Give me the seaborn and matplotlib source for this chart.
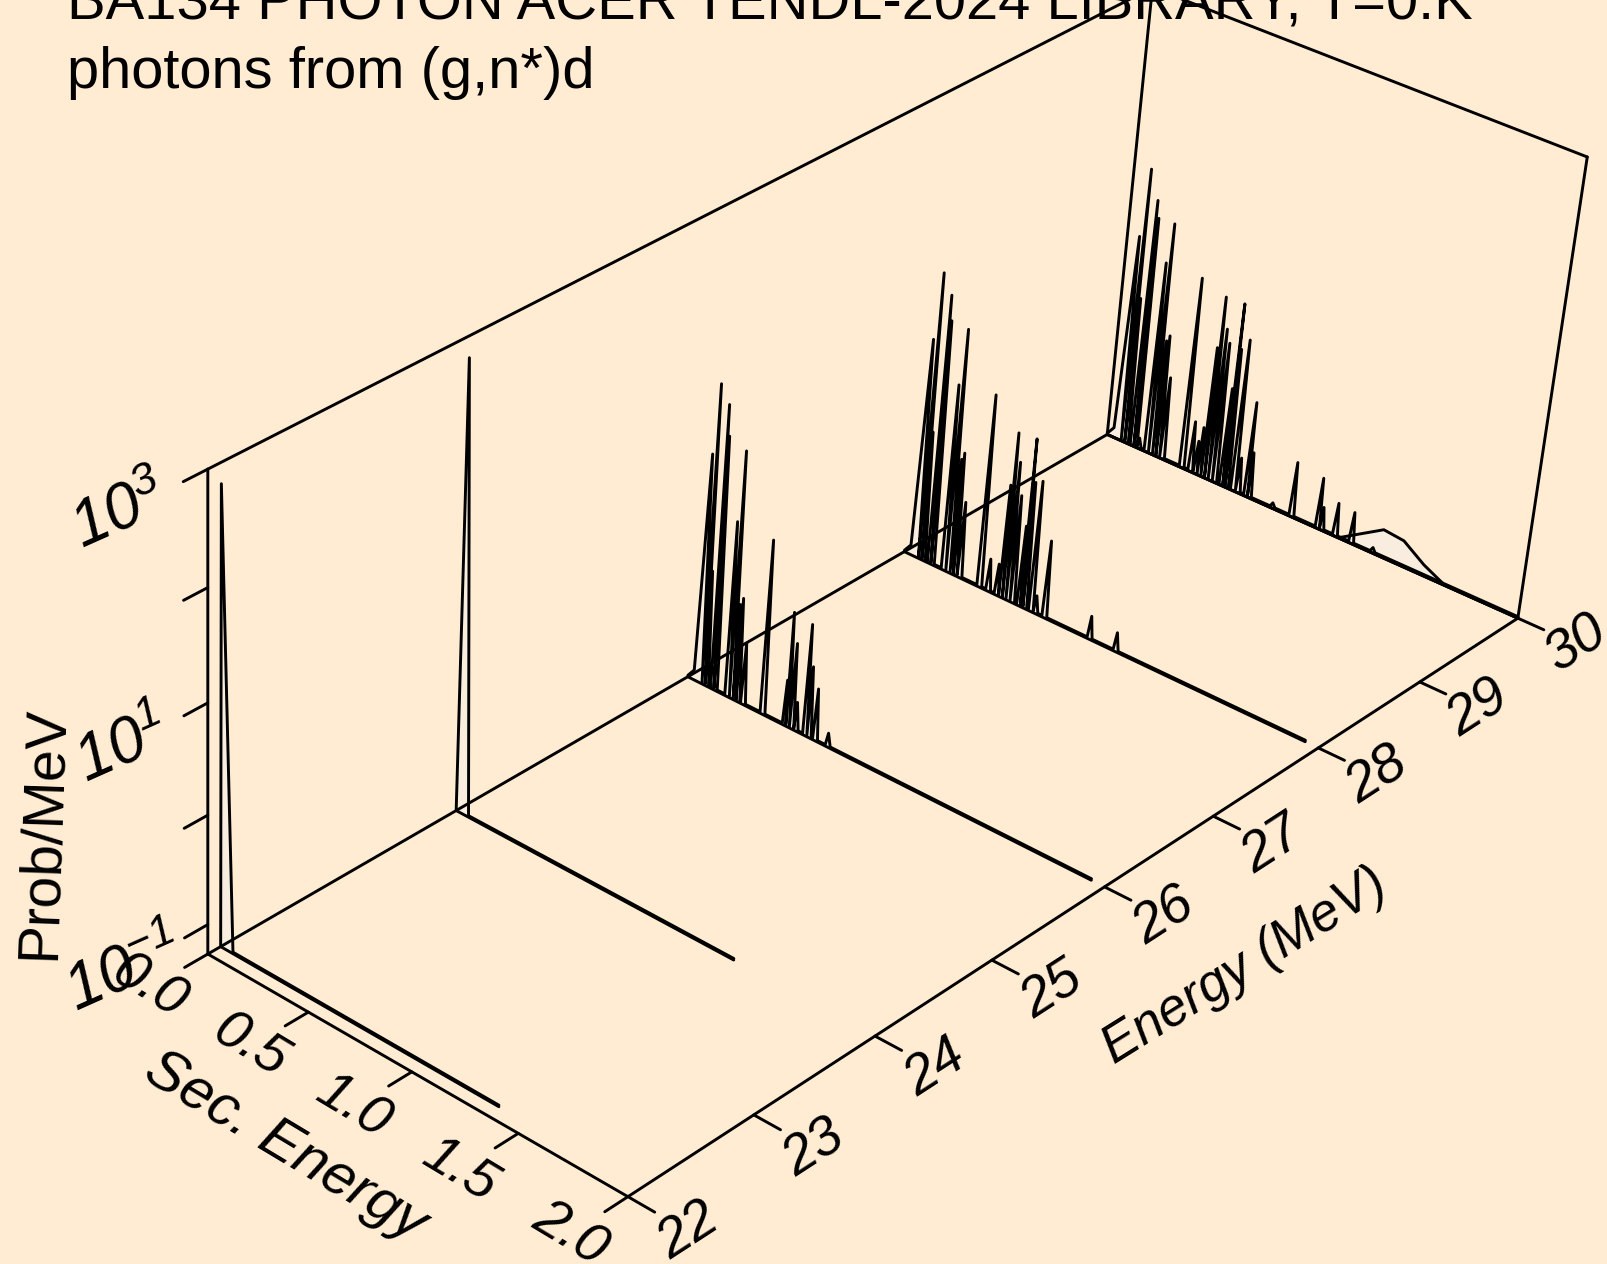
import numpy as np
import pandas as pd
import matplotlib
matplotlib.use("Agg")
import matplotlib.pyplot as plt
import matplotlib.transforms as mtransforms
import seaborn as sns

FIG_W, FIG_H = 1607, 1264
BG = "#FFECD3"
FILL = "#F8EDDE"
LW = 2.1

# camera fitted to the box corners and ticks of the picture (pixels, y down)
CAMERA = np.array([[225.785974, 328.2145137, -4.5418588, -4618.7329944],
                   [-97.3695799, 149.7646981, -203.7068128, 3509.3495833],
                   [0.0307857, -0.0477252, -0.0218532, 1.0]])

E_MIN, E_MAX = 22, 30
SEC_MIN, SEC_MAX = 0, 2
LOG_MIN, LOG_MAX = -1.274, 3

E_TICKS = [22, 23, 24, 25, 26, 27, 28, 29, 30]
SEC_TICKS = [0.0, 0.5, 1.0, 1.5, 2.0]
LOG_TICKS = [3, 2, 1, 0, -1]
LOG_LABELLED = [3, 1, -1]

# incident energies and where each spectrum stops
energies = [30.0, 28.0, 26.0, 24.0, 22.1]
sec_end = [2.0, 1.94, 1.94, 1.35, 1.35]

# discrete lines, sec. energy (MeV) and log10 of prob/MeV at the tip
sec_30 = [0.059, 0.083, 0.095, 0.129, 0.142, 0.160, 0.199, 0.220, 0.240, 0.254, 0.278, 0.377, 0.420, 0.446, 0.463,
          0.484, 0.499, 0.521, 0.540, 0.576, 0.589, 0.598, 0.633, 0.657, 0.698, 0.712, 0.828, 0.921, 1.049, 1.067, 1.133, 1.211, 1.314]
log_30 = [0.72, 1.38, 0.15, 1.12, 0.96, -1.17, 0.58, 0.97, -0.14, -0.08, -0.47, 0.58, -0.78, -0.95, -0.80,
          0.00, 0.50, 0.21, 0.09, -0.32, 0.51, 0.08, 0.20, -0.93, -0.35, -0.83, -1.22, -0.74, -0.78, -1.05, -0.95, -0.97, -1.22]

sec_28 = [0.059, 0.084, 0.093, 0.129, 0.139, 0.198, 0.221, 0.241, 0.253, 0.278, 0.377, 0.421, 0.463, 0.484,
          0.500, 0.520, 0.540, 0.575, 0.587, 0.600, 0.633, 0.655, 0.699, 0.920, 1.046]
log_28 = [0.82, 1.46, -0.03, 1.29, 1.06, 0.51, 1.05, -0.16, -0.09, -0.54, 0.57, -0.96, -0.97, -0.19,
          0.32, 0.06, -0.24, -0.50, 0.34, -0.06, -0.02, -1.10, -0.53, -1.05, -1.09]

sec_26 = [0.060, 0.083, 0.092, 0.127, 0.136, 0.198, 0.220, 0.236, 0.249, 0.277, 0.374, 0.484, 0.495, 0.519,
          0.538, 0.584, 0.602, 0.633, 0.695]
log_26 = [0.88, 1.54, -0.18, 1.39, 1.11, 0.38, 1.05, -0.36, -0.29, -0.69, 0.37, -0.84, -0.19, -0.46,
          -1.00, -0.22, -0.60, -0.78, -1.14]

# the two lowest energies have one line at the origin
sec_low = [0.0, 0.0, 0.062]
log_24 = [-1.26, 2.81, -1.26]
log_22 = [-1.26, 2.82, -1.26]

# broad hump of the 30 MeV spectrum
sec_hump = [1.160, 1.352, 1.449, 1.553, 1.646]
log_hump = [-1.26, -1.01, -1.03, -1.17, -1.26]

BASE = -1.26
HALF_WIDTH = 0.012
FIRST_FOOT = 0.03


class PlaneToScreen(mtransforms.Transform):
    """Projects a plane of the box (one of E, sec, log fixed) to the figure."""
    input_dims = 2
    output_dims = 2

    def __init__(self, fixed, value):
        super().__init__()
        self.fixed = fixed
        self.value = value

    def transform_non_affine(self, values):
        pts = np.insert(np.asarray(values, float), self.fixed, self.value, axis=1)
        h = CAMERA @ np.c_[pts, np.ones(len(pts))].T
        return np.c_[h[0] / h[2], FIG_H - h[1] / h[2]]


def at_energy(e):
    return PlaneToScreen(0, e)


def at_sec(s):
    return PlaneToScreen(1, s)


def at_log(z):
    return PlaneToScreen(2, z)


def spectrum(sec, log, end):
    # a narrow triangle per line, going back to the baseline in between
    xs, ys = [0.0, FIRST_FOOT], [BASE, BASE + 0.08]
    for i, (s, z) in enumerate(zip(sec, log)):
        xs.append(s)
        ys.append(z)
        if i + 1 < len(sec) and sec[i + 1] - s < 2 * HALF_WIDTH:
            xs.append((s + sec[i + 1]) / 2)
            ys.append(BASE)
        else:
            xs.append(s + HALF_WIDTH)
            ys.append(BASE)
            if i + 1 < len(sec):
                xs.append(sec[i + 1] - HALF_WIDTH)
                ys.append(BASE)
    xs.append(end)
    ys.append(BASE)
    return pd.DataFrame({"sec": xs, "log_prob": ys})


def draw_curve(ax, df, e, end):
    trans = at_energy(e)
    ax.fill(df["sec"], df["log_prob"], color=FILL, lw=0, transform=trans)
    sns.lineplot(data=df, x="sec", y="log_prob", estimator=None, sort=False, errorbar=None,
                 color="black", linewidth=LW, transform=trans, ax=ax)
    # closing edge of the polygon, just under the curve
    ax.plot([0, end], [LOG_MIN, LOG_MIN], color="black", lw=LW, transform=trans)


sns.set_theme(style="white", rc={"figure.facecolor": BG, "axes.facecolor": BG,
                                 "savefig.facecolor": BG, "text.color": "black"})
plt.rcParams["font.family"] = ["Liberation Sans", "DejaVu Sans"]
plt.rcParams["mathtext.fontset"] = "custom"
plt.rcParams["mathtext.rm"] = "Liberation Sans:italic"
plt.rcParams["mathtext.it"] = "Liberation Sans:italic"
plt.rcParams["mathtext.default"] = "rm"

fig = plt.figure(figsize=(FIG_W / 100, FIG_H / 100), dpi=100)
ax = fig.add_axes([0, 0, 1, 1])
ax.set_axis_off()

# box
frame = dict(color="black", lw=LW)
ax.plot([E_MIN, E_MIN, E_MAX, E_MAX, E_MIN], [SEC_MIN, SEC_MAX, SEC_MAX, SEC_MIN, SEC_MIN],
        transform=at_log(LOG_MIN), **frame)
ax.plot([E_MIN, E_MAX, E_MAX], [SEC_MIN, SEC_MIN, SEC_MAX], transform=at_log(LOG_MAX), **frame)
ax.plot([E_MIN, E_MIN], [LOG_MIN, LOG_MAX], transform=at_sec(SEC_MIN), **frame)
ax.plot([E_MAX, E_MAX], [LOG_MIN, LOG_MAX], transform=at_sec(SEC_MIN), **frame)
ax.plot([E_MAX, E_MAX], [LOG_MIN, LOG_MAX], transform=at_sec(SEC_MAX), **frame)

# ticks and tick labels
tick_font = dict(fontsize=40, style="italic", ha="center", va="center", rotation_mode="anchor", clip_on=False)
for e in E_TICKS:
    ax.plot([e, e], [SEC_MAX, SEC_MAX + 0.12], transform=at_log(LOG_MIN), **frame)
    ax.text(e, SEC_MAX + 0.27, str(e), rotation=33, transform=at_log(LOG_MIN), **tick_font)
for s in SEC_TICKS:
    ax.plot([E_MIN, E_MIN - 0.18], [s, s], transform=at_log(LOG_MIN), **frame)
    ax.text(E_MIN - 0.45, s, f"{s:.1f}", rotation=-31, transform=at_log(LOG_MIN), **tick_font)
for z in LOG_TICKS:
    ax.plot([E_MIN, E_MIN - 0.18], [z, z], transform=at_sec(SEC_MIN), **frame)
    if z in LOG_LABELLED:
        ax.text(E_MIN - 0.64, z + 0.01, f"$10^{{{z}}}$", rotation=24,
                transform=at_sec(SEC_MIN), **{**tick_font, "fontsize": 46})

# axis titles
ax.text(E_MIN - 0.95, 0.99, "Sec. Energy", rotation=-31, transform=at_log(LOG_MIN), **{**tick_font, "fontsize": 42})
ax.text(25.93, SEC_MAX + 0.66, "Energy (MeV)", rotation=32, transform=at_log(LOG_MIN), **{**tick_font, "fontsize": 38})
ax.text(20.78, 0.65, "Prob/MeV", rotation=88, transform=at_sec(SEC_MIN), **{**tick_font, "fontsize": 41, "style": "normal"})

# spectra, back to front
draw_curve(ax, pd.DataFrame({"sec": sec_hump, "log_prob": log_hump}), 30.0, sec_end[0])
for e, sec, log, end in zip(energies[:3], [sec_30, sec_28, sec_26], [log_30, log_28, log_26], sec_end[:3]):
    draw_curve(ax, spectrum(sec, log, end), e, end)
for e, log, end in zip(energies[3:], [log_24, log_22], sec_end[3:]):
    df = pd.DataFrame({"sec": sec_low + [end], "log_prob": log + [BASE]})
    draw_curve(ax, df, e, end)

ax.set_xlim(0, 1)
ax.set_ylim(0, 1)

fig.text(67 / FIG_W, 1 - 88 / FIG_H, "BA134 PHOTON ACER TENDL-2024 LIBRARY, T=0.K\nphotons from (g,n*)d",
         fontsize=41.7, ha="left", va="baseline", linespacing=1.35)
fig.savefig("out.png", dpi=100)
